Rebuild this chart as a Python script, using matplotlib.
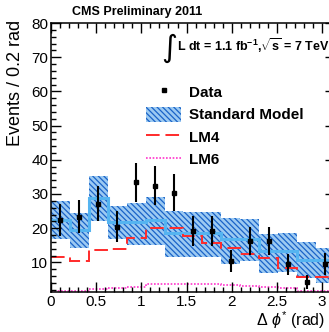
import numpy as np
import matplotlib.pyplot as plt
from matplotlib.lines import Line2D
from matplotlib.patches import Patch

plt.rcParams['font.family'] = ['Liberation Sans', 'DejaVu Sans']
plt.rcParams['mathtext.fontset'] = 'custom'
plt.rcParams['mathtext.rm'] = 'Liberation Sans'
plt.rcParams['mathtext.it'] = 'Liberation Sans:italic'
plt.rcParams['mathtext.bf'] = 'Liberation Sans:bold'
plt.rcParams['hatch.linewidth'] = 0.9

# 15 bins in delta phi* from 0 to pi
n_bins = 15
edges = np.linspace(0, np.pi, n_bins + 1)
centers = 0.5 * (edges[:-1] + edges[1:])

data = [22.4, 23.3, 27.2, 20.4, 33.4, 32.4, 30.4, 19.3, 19.3, 10.5, 16.3, 16.3, 9.4, 4.2, 9.5]
data_err = [4.7, 4.8, 5.2, 4.5, 5.8, 5.7, 5.5, 4.4, 4.4, 3.2, 4.0, 4.0, 3.1, 2.0, 3.1]

sm = [22.4, 19.4, 28.9, 21.7, 21.7, 22.4, 18.6, 18.5, 18.5, 16.8, 16.8, 13.2, 13.3, 10.7, 10.7]
sm_lo = [16.7, 14.3, 22.1, 16.7, 15.1, 15.1, 11.6, 11.6, 11.6, 9.5, 10.5, 7.0, 7.3, 5.5, 4.0]
sm_hi = [27.9, 24.5, 35.2, 26.5, 27.3, 29.0, 25.0, 24.8, 24.8, 23.0, 22.6, 18.4, 18.6, 16.0, 14.1]

lm4 = [11.6, 10.5, 13.6, 13.9, 17.0, 20.1, 20.0, 17.7, 15.7, 14.3, 12.4, 11.3, 8.3, 5.8, 5.8]
lm6 = [1.7, 1.7, 2.1, 2.4, 2.9, 3.6, 3.7, 3.8, 3.8, 3.3, 3.1, 2.9, 2.4, 1.7, 1.7]

fig = plt.figure(figsize=(3.29, 3.32), dpi=100)
ax = fig.add_axes([0.155, 0.1214, 0.863, 0.8093])

hatch_col = '#1a63c8'
fill_col = '#9ccaf2'
line_col = '#55b4f0'
band_hatch = '\\\\\\\\\\\\'

ax.stairs(sm_hi, edges, baseline=sm_lo, fill=True, facecolor=fill_col,
          edgecolor=hatch_col, hatch=band_hatch, linewidth=0)
ax.stairs(sm, edges, baseline=None, color=line_col, lw=2.2)
ax.stairs(lm4, edges, baseline=None, color='#ff2a2a', lw=1.4, ls=(0, (7, 3)))
ax.stairs(lm6, edges, baseline=None, color='#ff33cc', lw=1.2, ls=(0, (1, 1)))
ax.errorbar(centers, data, yerr=data_err, fmt='s', color='black', ms=2.6,
            elinewidth=1.5, capsize=0)

ax.set_xlim(0, np.pi)
ax.set_ylim(1.43, 80)
ax.set_xticks(np.arange(0, 3.01, 0.5))
ax.set_xticklabels(['0', '0.5', '1', '1.5', '2', '2.5', '3'])
ax.set_xticks(np.arange(0, 3.15, 0.1), minor=True)
ax.set_yticks(np.arange(10, 81, 10))
ax.set_yticks(np.arange(2, 81, 2), minor=True)
ax.tick_params(which='both', direction='in', top=True, right=True, width=1.0,
               labelsize=11)
ax.tick_params(which='major', length=7)
ax.tick_params(which='minor', length=3.5)
ax.tick_params(axis='y', pad=2)
ax.tick_params(axis='x', pad=2.5)
for s in ax.spines.values():
    s.set_linewidth(1.1)

handles = [
    Line2D([], [], marker='s', color='black', ls='none', ms=2.6),
    Patch(facecolor=fill_col, edgecolor=hatch_col, hatch=band_hatch, lw=0),
    Line2D([], [], color='#ff2a2a', lw=1.4, ls=(0, (7, 3))),
    Line2D([], [], color='#ff33cc', lw=1.2, ls=(0, (1, 1))),
]
labels = ['Data', 'Standard Model', 'LM4', 'LM6']
ax.legend(handles, labels, loc='upper left', bbox_to_anchor=(0.335, 0.773),
          frameon=False, prop={'weight': 'bold', 'size': 11},
          handlelength=2.3, handleheight=1.15, handletextpad=0.5,
          labelspacing=0.445, borderpad=0, borderaxespad=0)

fig.text(0.416, 0.964, 'CMS Preliminary 2011', ha='center', va='center',
         fontsize=9, fontweight='bold')
fig.text(0.514, 0.855, '\u222b', ha='center', va='center', fontsize=22,
         family='DejaVu Sans')
fig.text(0.538, 0.862, r'L dt = 1.1 fb$^{\mathbf{-1}}$,$\sqrt{\mathbf{s}}$ = 7 TeV',
         ha='left', va='center', fontsize=9, fontweight='bold')
fig.text(0.046, 0.94, 'Events / 0.2 rad', rotation=90, ha='center', va='top',
         fontsize=13)
fig.text(0.988, 0.004, r'$\Delta\ \phi^{*}$ (rad)', ha='right', va='bottom',
         fontsize=11.5)

fig.savefig('out.png', dpi=100)
